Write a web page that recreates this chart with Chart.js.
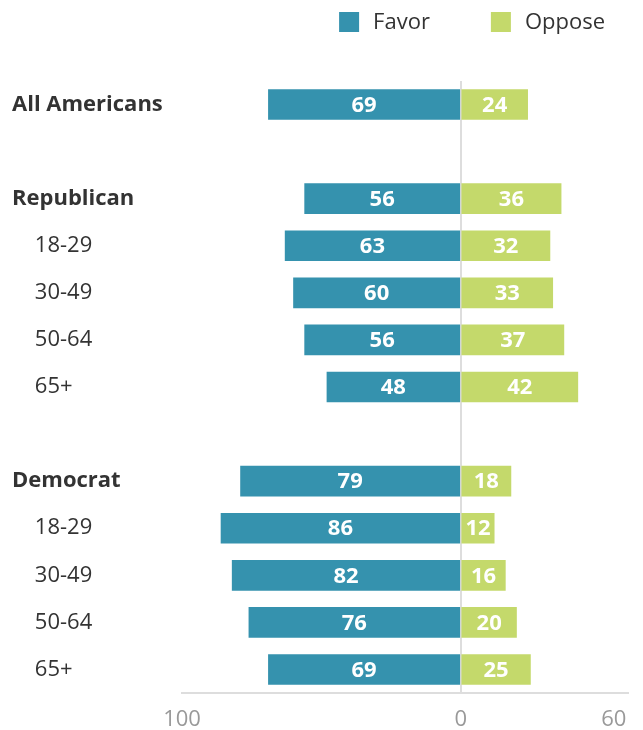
<!DOCTYPE html>
<html lang="en">
<head>
<meta charset="UTF-8">
<title>Favor / Oppose by party and age</title>
<script src="https://cdn.jsdelivr.net/npm/chart.js@4"></script>
<style>
  html, body { margin: 0; padding: 0; background: #fff; }
  #wrap { width: 643px; height: 730px; position: relative; }
</style>
</head>
<body>
<div id="wrap"><canvas id="chart"></canvas></div>

<script>
// Rows, top to bottom ('' = spacer row)
const groups = ['All Americans', '', 'Republican', '18-29', '30-49', '50-64', '65+', '', 'Democrat', '18-29', '30-49', '50-64', '65+'];
const headers = [true, false, true, false, false, false, false, false, true, false, false, false, false];
const favor  = [69, null, 56, 63, 60, 56, 48, null, 79, 86, 82, 76, 69];
const oppose = [24, null, 36, 32, 33, 37, 42, null, 18, 12, 16, 20, 25];
const xTicks = [-100, 0, 60];

const FONT = '"Open Sans", "Noto Sans", sans-serif';

// white value labels centred on each bar
const barLabels = {
  id: 'barLabels',
  afterDatasetsDraw(chart) {
    const ctx = chart.ctx;
    ctx.save();
    ctx.font = 'bold 22px ' + FONT;
    ctx.fillStyle = '#fff';
    ctx.textAlign = 'center';
    ctx.textBaseline = 'middle';
    chart.data.datasets.forEach((ds, i) => {
      chart.getDatasetMeta(i).data.forEach((bar, j) => {
        const v = ds.data[j];
        if (v === null) return;
        ctx.fillText(String(Math.abs(v)), (bar.x + bar.base) / 2, bar.y + 1);
      });
    });
    ctx.restore();
  }
};

// legend row in the top right, laid out right to left
const topLegend = {
  id: 'topLegend',
  afterDraw(chart) {
    const ctx = chart.ctx;
    const box = 20, gapText = 14, gapItem = 61, y = 22;
    ctx.save();
    ctx.font = '22px ' + FONT;
    ctx.textBaseline = 'middle';
    let right = chart.chartArea.right - 23;
    const items = chart.data.datasets.slice().reverse();
    items.forEach(ds => {
      const w = ctx.measureText(ds.label).width;
      const tx = right - w;
      const bx = tx - gapText - box;
      ctx.fillStyle = ds.backgroundColor;
      ctx.fillRect(bx, y - box / 2, box, box);
      ctx.fillStyle = '#333';
      ctx.textAlign = 'left';
      ctx.fillText(ds.label, tx, y + 1);
      right = bx - gapItem;
    });
    ctx.restore();
  }
};

new Chart(document.getElementById('chart'), {
  type: 'bar',
  data: {
    labels: groups,
    datasets: [
      {
        label: 'Favor',
        data: favor.map(v => v === null ? null : -v),
        backgroundColor: '#3592ae',
        barThickness: 30
      },
      {
        label: 'Oppose',
        data: oppose,
        backgroundColor: '#c4d96b',
        barThickness: 30
      }
    ]
  },
  options: {
    indexAxis: 'y',
    responsive: true,
    maintainAspectRatio: false,
    animation: false,
    layout: { padding: { left: 12, right: 15, top: 81, bottom: 0 } },
    plugins: {
      tooltip: { enabled: false },
      legend: { display: false }
    },
    scales: {
      x: {
        stacked: true,
        min: -100,
        max: 60,
        afterBuildTicks(axis) {
          axis.ticks = xTicks.map(v => ({ value: v }));
        },
        afterFit(axis) {
          axis.height = 37;
          axis.paddingLeft = 0;
          axis.paddingRight = 0;
        },
        ticks: {
          color: '#999',
          font: { family: FONT, size: 22 },
          padding: 14,
          // keep the last label inside the canvas edge
          callback: (v, i, ticks) => i === ticks.length - 1 ? Math.abs(v) + '     ' : String(Math.abs(v))
        },
        grid: {
          drawTicks: false,
          lineWidth: 2,
          color: c => (c.tick && c.tick.value === 0) ? '#dddddd' : 'rgba(0,0,0,0)'
        },
        border: { display: true, color: '#dddddd', width: 2 }
      },
      y: {
        stacked: true,
        afterFit(axis) { axis.width = 170; },
        ticks: {
          crossAlign: 'far',
          color: '#333',
          padding: 0,
          font: c => ({ family: FONT, size: 22, weight: headers[c.index] ? 'bold' : 'normal' }),
          callback: (v, i) => headers[i] ? groups[i] : (groups[i] ? '    ' + groups[i] : '')
        },
        grid: { display: false },
        border: { display: false }
      }
    }
  },
  plugins: [barLabels, topLegend]
});
</script>
</body>
</html>
